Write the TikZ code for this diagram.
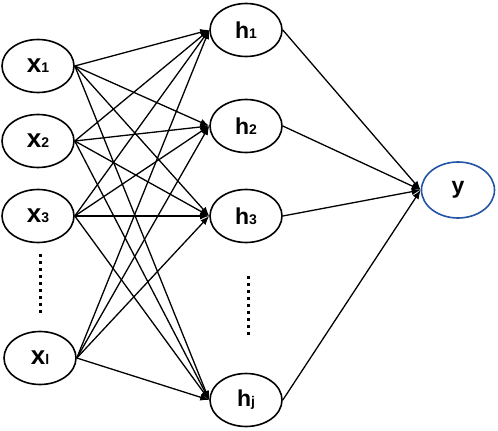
\documentclass[tikz,border=0pt]{standalone}
\usepackage{fontspec}
\setmainfont{Liberation Sans}
\usetikzlibrary{shapes.geometric,arrows.meta}
\definecolor{outblue}{RGB}{35,85,165}
\newcommand{\lbl}[2]{{\fontsize{26}{26}\selectfont #1}{\fontsize{14}{14}\selectfont #2}}
\newcommand{\hlbl}[2]{{\fontsize{23}{23}\selectfont #1}{\fontsize{14}{14}\selectfont #2}}
\begin{document}
\begin{tikzpicture}[x=1pt,y=-1pt,
  neuron/.style={ellipse,draw,line width=1.6pt,minimum width=72pt,minimum height=53pt,inner sep=0pt,font=\bfseries},
  conn/.style={line width=1.3pt,-{Latex[length=9pt,width=7pt]}},
  vdots/.style={line width=3pt,dash pattern=on 2.5pt off 4.5pt}]
\useasboundingbox (0,0) rectangle (498,431);
\node[neuron] (x1) at (38,66) {\lbl{x}{1}};
\node[neuron] (x2) at (38,141) {\lbl{x}{2}};
\node[neuron] (x3) at (38,216) {\lbl{x}{3}};
\node[neuron] (xl) at (40,358) {\lbl{x}{l}};
\node[neuron] (h1) at (246,30) {\hlbl{h}{1}};
\node[neuron] (h2) at (246,126) {\hlbl{h}{2}};
\node[neuron] (h3) at (246,216) {\hlbl{h}{3}};
\node[neuron] (hj) at (246,400) {\hlbl{h}{j}};
\node[neuron,draw=outblue,minimum width=73pt,minimum height=56pt] (y) at (458,190) {\hlbl{y}{}};
\coordinate (dxa) at (40,254);
\coordinate (dxb) at (40,316);
\coordinate (dha) at (248,276);
\coordinate (dhb) at (248,338);
\draw[vdots] (dxa) -- (dxb);
\draw[vdots] (dha) -- (dhb);
\foreach \i in {x1,x2,x3,xl}{
  \foreach \j in {h1,h2,h3,hj}{
    \draw[conn] (\i.east) -- (\j.west);
  }
}
\foreach \j in {h1,h2,h3,hj}{
  \draw[conn] (\j.east) -- (y.west);
}
\end{tikzpicture}
\end{document}
